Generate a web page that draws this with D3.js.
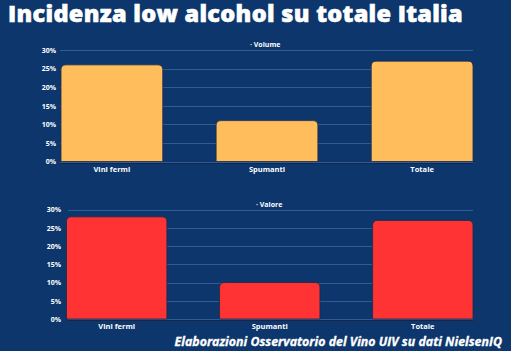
<!DOCTYPE html>
<html>
<head>
<meta charset="utf-8">
<script src="https://cdn.jsdelivr.net/npm/d3@7"></script>
<style>
  body { margin: 0; background: #0c366c; }
  svg { display: block; font-family: "Open Sans", sans-serif; }
</style>
</head>
<body>
<div id="chart"></div>
<script>
var categories = ["Vini fermi", "Spumanti", "Totale"];
var volumeValues = [26, 11, 27];
var valoreValues = [28, 10, 27];
var yTicks = [0, 5, 10, 15, 20, 25, 30];

var W = 511, H = 351;

var svg = d3.select("#chart")
    .append("svg")
    .attr("width", W)
    .attr("height", H);

svg.append("rect")
    .attr("width", W)
    .attr("height", H)
    .attr("fill", "#0c366c");

svg.append("text")
    .attr("x", 8)
    .attr("y", 22)
    .attr("fill", "#fff")
    .attr("stroke", "#fff")
    .attr("stroke-width", 0.6)
    .style("font-size", "23.5px")
    .style("font-weight", 800)
    .style("letter-spacing", "0.3px")
    .text("Incidenza low alcohol su totale Italia");

function drawPanel(opts) {
    var x = d3.scaleBand()
        .domain(categories)
        .range([opts.left, 473])
        .paddingInner(0.344)
        .paddingOuter(0);

    var y = d3.scaleLinear()
        .domain([0, 30])
        .range([opts.bottom, opts.top]);

    var g = svg.append("g");

    // gridlines
    g.selectAll("line.grid")
        .data(yTicks)
        .enter().append("line")
        .attr("class", "grid")
        .attr("x1", opts.gridLeft)
        .attr("x2", 473)
        .attr("y1", function (d) { return Math.round(y(d)) + 0.5; })
        .attr("y2", function (d) { return Math.round(y(d)) + 0.5; })
        .attr("stroke", "#2f5c98")
        .attr("stroke-width", 1);

    // dark shadow under baseline
    g.append("line")
        .attr("x1", opts.gridLeft)
        .attr("x2", 473)
        .attr("y1", Math.round(y(0)) + 1.5)
        .attr("y2", Math.round(y(0)) + 1.5)
        .attr("stroke", "#16264a")
        .attr("stroke-width", 1);

    var yAxis = d3.axisLeft(y)
        .tickValues(yTicks)
        .tickSize(0)
        .tickPadding(0)
        .tickFormat(function (d) { return d + "%"; });

    var ya = g.append("g")
        .attr("transform", "translate(" + opts.labelX + ",0)")
        .call(yAxis);
    ya.select(".domain").remove();
    ya.selectAll("text")
        .attr("fill", "#fff")
        .style("font-family", "Open Sans, sans-serif")
        .style("font-size", "7px")
        .style("font-weight", 700);

    var r = 5;
    g.selectAll("path.bar")
        .data(opts.values)
        .enter().append("path")
        .attr("class", "bar")
        .attr("d", function (d, i) {
            var x0 = x(categories[i]), x1 = x0 + x.bandwidth();
            var y0 = y(0), y1 = y(d);
            return "M" + x0 + "," + y0 +
                "V" + (y1 + r) +
                "Q" + x0 + "," + y1 + " " + (x0 + r) + "," + y1 +
                "H" + (x1 - r) +
                "Q" + x1 + "," + y1 + " " + x1 + "," + (y1 + r) +
                "V" + y0 + "Z";
        })
        .attr("fill", opts.color)
        .attr("stroke", "#1c2b4c")
        .attr("stroke-width", 0.8);

    g.selectAll("text.cat")
        .data(categories)
        .enter().append("text")
        .attr("class", "cat")
        .attr("x", function (d) { return x(d) + x.bandwidth() / 2; })
        .attr("y", opts.bottom + 10)
        .attr("text-anchor", "middle")
        .attr("fill", "#fff")
        .style("font-size", "7.5px")
        .style("font-weight", 700)
        .text(function (d) { return d; });

    g.append("text")
        .attr("x", opts.titleX)
        .attr("y", opts.top - 3)
        .attr("fill", "#fff")
        .style("font-size", "7px")
        .style("font-weight", 700)
        .text("\u00b7 " + opts.title);
}

drawPanel({
    title: "Volume", titleX: 250, values: volumeValues, color: "#ffbd5c",
    top: 50, bottom: 161.5, left: 61, gridLeft: 60, labelX: 56
});

drawPanel({
    title: "Valore", titleX: 256, values: valoreValues, color: "#ff3333",
    top: 209.5, bottom: 319, left: 66.5, gridLeft: 68, labelX: 61
});

svg.append("text")
    .attr("x", 502)
    .attr("y", 346)
    .attr("text-anchor", "end")
    .attr("fill", "#fff")
    .attr("stroke", "#fff")
    .attr("stroke-width", 0.3)
    .style("font-size", "12.4px")
    .style("font-weight", 700)
    .style("font-style", "italic")
    .text("Elaborazioni Osservatorio del Vino UIV su dati NielsenIQ");
</script>
</body>
</html>
